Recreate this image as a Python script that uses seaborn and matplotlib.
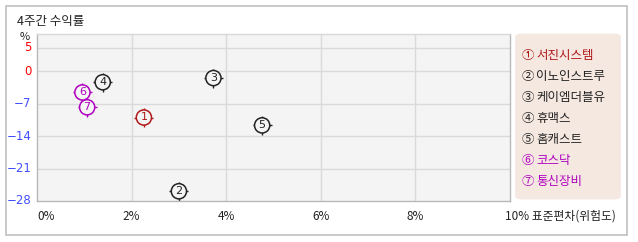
import matplotlib
matplotlib.use("Agg")
import matplotlib.pyplot as plt
import seaborn as sns
import pandas as pd
from matplotlib.patches import FancyBboxPatch, Rectangle

names = ["서진시스템", "이노인스트루", "케이엠더블유", "휴맥스", "홈캐스트", "코스닥", "통신장비"]
circled = ["①", "②", "③", "④", "⑤", "⑥", "⑦"]
risk = [2.26, 3.0, 3.73, 1.39, 4.76, 0.96, 1.06]
ret = [-10.0, -25.9, -1.5, -2.4, -11.7, -4.6, -7.8]
colors = ["#b01818", "#222222", "#222222", "#222222", "#222222", "#b000c0", "#b000c0"]
y_ticks = [5, 0, -7, -14, -21, -28]
x_ticks = [0, 2, 4, 6, 8, 10]
x_labels = ["0%", "2%", "4%", "6%", "8%", "10% 표준편차(위험도)"]

df = pd.DataFrame({"name": names, "risk": risk, "ret": ret, "color": colors})

sns.set_theme(style="white")
plt.rcParams["font.family"] = ["Noto Sans CJK KR", "DejaVu Sans"]

W, H = 638, 242
fig = plt.figure(figsize=(W / 100, H / 100), dpi=100)
fig.patch.set_facecolor("white")

# outer frame
fig.patches.append(Rectangle((6 / W, 1 - 235 / H), 621 / W, 229 / H, transform=fig.transFigure,
                             fill=False, edgecolor="#c0c0c0", linewidth=1.2))

ax = fig.add_axes([37 / W, 1 - 201 / H, (510 - 37) / W, (201 - 34) / H])
ax.set_facecolor("#f4f4f4")
ax.set_xlim(0, 10)
ax.set_ylim(-28, 8)
for v in [2, 4, 6, 8]:
    ax.axvline(v, color="#dadada", linewidth=1, zorder=0)
for v in [5, 0, -7, -14, -21]:
    ax.axhline(v, color="#dadada", linewidth=1, zorder=0)
for s in ["left", "bottom", "right", "top"]:
    ax.spines[s].set_color("#b8b8b8")
    ax.spines[s].set_linewidth(1)
ax.spines["top"].set_color("#d8d8d8")

# small tick marks (crosshair) behind circles
sns.scatterplot(data=df, x="risk", y="ret", marker="+", s=185, hue="name",
                palette=dict(zip(names, colors)), linewidth=1, legend=False, ax=ax, zorder=2)
sns.scatterplot(data=df, x="risk", y="ret", marker="o", s=120, hue="name",
                palette={n: "#f4f4f4" for n in names}, edgecolor=colors, linewidth=1.1,
                legend=False, ax=ax, zorder=3)
for i in range(len(names)):
    ax.text(risk[i], ret[i], str(i + 1), color=colors[i], fontsize=8, ha="center", va="center",
            zorder=4, family=["DejaVu Sans"])

ax.set_xticks([])
ax.set_yticks([])
ax.set_xlabel("")
ax.set_ylabel("")

# y tick labels
for v in y_ticks:
    c = "#ff0000" if v >= 0 else "#4050ff"
    ax.text(-0.12, v, "−" + str(-v) if v < 0 else str(v), color=c, fontsize=8.5, ha="right", va="center",
            transform=ax.transData, clip_on=False, family=["DejaVu Sans"])
# x tick labels
for v, lab in zip(x_ticks, x_labels):
    if v == 0:
        ax.text(v, -0.09, lab, fontsize=8.5, color="#222222", ha="left", va="center",
                transform=ax.get_xaxis_transform(), clip_on=False)
    elif v == 10:
        ax.text(v - 0.1, -0.09, lab, fontsize=8.5, color="#222222", ha="left", va="center",
                transform=ax.get_xaxis_transform(), clip_on=False)
    else:
        ax.text(v, -0.09, lab, fontsize=8.5, color="#222222", ha="center", va="center",
                transform=ax.get_xaxis_transform(), clip_on=False)

fig.text(17 / W, 1 - 21 / H, "4주간 수익률", fontsize=9, color="#222222", ha="left", va="center")
fig.text(25 / W, 1 - 37 / H, "%", fontsize=8, color="#222222", ha="center", va="center")

# legend box
fig.patches.append(FancyBboxPatch((519 / W, 1 - 198 / H), 98 / W, 163 / H,
                                  boxstyle="round,pad=0.006,rounding_size=0.012",
                                  transform=fig.transFigure, facecolor="#f5e8e1", edgecolor="none"))
for i, n in enumerate(names):
    yy = 55 + i * 21.1
    fig.text(522 / W, 1 - yy / H, circled[i], fontsize=9, color=colors[i], ha="left", va="center")
    fig.text(536 / W, 1 - yy / H, n, fontsize=9, color=colors[i], ha="left", va="center")

fig.savefig("out.png", dpi=100)
